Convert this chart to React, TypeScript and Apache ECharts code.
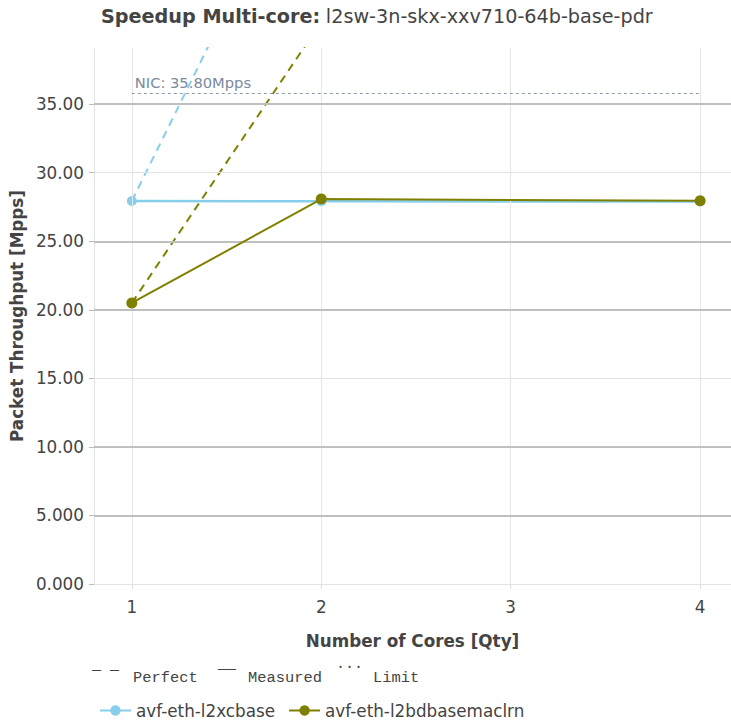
import React, { useEffect, useRef } from "react";
import * as echarts from "echarts";

const cores = [1, 2, 4];
const l2xcbaseMeasured = [27.94, 27.92, 27.9];
const l2bdMeasured = [20.5, 28.08, 27.96];
const l2xcbasePerfect = [27.94, 55.88, 111.76];
const l2bdPerfect = [20.5, 41.0, 82.0];
const nicLimit = 35.8;
const yTicks = [0, 5, 10, 15, 20, 25, 30, 35];
const yGridStrong = [5, 10, 20, 25, 35];
const yGridLight = [15, 30];
const xTicks = [1, 2, 3, 4];
const names = ["avf-eth-l2xcbase", "avf-eth-l2bdbasemaclrn"];
const colors = ["#87CEEB", "#808000"];

const FONT = "DejaVu Sans";
const MONO = "Liberation Mono";

export default function App() {
  const ref = useRef<HTMLDivElement>(null);
  useEffect(() => {
    if (!ref.current) return;
    const chart = echarts.init(ref.current, undefined, { renderer: "svg" });
    const pts = (ys: number[]) => cores.map((c, i) => [c, ys[i]]);
    const option: any = {
      animation: false,
      backgroundColor: "#fff",
      textStyle: { fontFamily: FONT },
      title: {
        left: 96,
        top: 2,
        text: "{b|Speedup Multi-core:} {n|l2sw-3n-skx-xxv710-64b-base-pdr}",
        textStyle: {
          fontWeight: "normal",
          rich: {
            b: { fontWeight: "bold", fontSize: 19.2, color: "#444", fontFamily: FONT },
            n: { fontWeight: "normal", fontSize: 19.2, color: "#444", fontFamily: FONT },
          },
        },
      },
      grid: { left: 92, top: 48, right: 0, height: 536 },
      xAxis: {
        type: "value",
        min: 0.8,
        max: 4.163,
        axisLine: { show: true, lineStyle: { color: "#e3e3e3", width: 1 } },
        axisTick: { show: true, customValues: xTicks, length: 5, lineStyle: { color: "#ddd" } },
        axisLabel: { customValues: xTicks, color: "#444", fontSize: 16.8, margin: 14, fontFamily: FONT, formatter: (v: number) => String(v) },
        splitLine: { show: false },
        name: "Number of Cores [Qty]",
        nameLocation: "middle",
        nameGap: 48,
        nameTextStyle: { fontWeight: "bold", fontSize: 16.8, color: "#444", fontFamily: FONT },
      },
      yAxis: {
        type: "value",
        min: 0,
        max: 39.1,
        axisLine: { show: true, lineStyle: { color: "#e3e3e3", width: 1 } },
        axisTick: { show: true, customValues: yTicks, length: 5, lineStyle: { color: "#bbb" } },
        axisLabel: { customValues: yTicks, color: "#444", fontSize: 16.8, margin: 10, fontFamily: FONT, formatter: (v: number) => v.toPrecision(4) },
        splitLine: { show: false },
        name: "Packet Throughput [Mpps]",
        nameLocation: "middle",
        nameRotate: 90,
        nameGap: 60,
        nameTextStyle: { fontWeight: "bold", fontSize: 16.8, color: "#444", fontFamily: FONT },
      },
      legend: {
        data: names,
        left: 94,
        top: 697,
        itemWidth: 31,
        itemHeight: 13,
        itemGap: 13,
        textStyle: { fontSize: 16.8, color: "#444", fontFamily: FONT },
      },
      graphic: [
        { type: "text", left: 92, top: 663, style: { text: "— —", font: `15px '${MONO}'`, fill: "#444" } },
        { type: "text", left: 133, top: 670, style: { text: "Perfect", font: `15.4px '${MONO}'`, fill: "#444" } },
        { type: "text", left: 218, top: 662, style: { text: "——", font: `15px '${MONO}'`, fill: "#444" } },
        { type: "text", left: 248, top: 670, style: { text: "Measured", font: `15.4px '${MONO}'`, fill: "#444" } },
        { type: "text", left: 336, top: 657, style: { text: "...", font: `15px '${MONO}'`, fill: "#444" } },
        { type: "text", left: 373, top: 670, style: { text: "Limit", font: `15.4px '${MONO}'`, fill: "#444" } },
      ],
      series: [
        {
          name: "grid",
          type: "line",
          data: [],
          z: 1,
          markLine: {
            silent: true,
            symbol: "none",
            label: { show: false },
            animation: false,
            data: [
              ...xTicks.map((v) => ({ xAxis: v, lineStyle: { color: "#e6e6e6", width: 1, type: "solid" } })),
              ...yGridLight.map((v) => ({ yAxis: v, lineStyle: { color: "#e2e2e2", width: 1, type: "solid" } })),
              ...yGridStrong.map((v) => ({ yAxis: v, lineStyle: { color: "#bfbfbf", width: 2, type: "solid" } })),
            ],
          },
        },
        {
          name: "Limit",
          type: "line",
          data: [],
          z: 2,
          markLine: {
            silent: true,
            symbol: "none",
            animation: false,
            lineStyle: { color: "#8e9cb0", width: 1, type: [3, 3] },
            label: {
              show: true,
              position: "insideStartTop",
              formatter: "NIC: 35.80Mpps",
              color: "#7a8aa0",
              fontSize: 14.7,
              fontFamily: FONT,
              distance: 3,
            },
            data: [[{ coord: [1, nicLimit] }, { coord: [4, nicLimit] }]],
          },
        },
        {
          name: names[0] + " perfect",
          type: "line",
          data: pts(l2xcbasePerfect),
          symbol: "none",
          z: 3,
          lineStyle: { color: colors[0], width: 2, type: [8, 6] },
          itemStyle: { color: colors[0] },
        },
        {
          name: names[1] + " perfect",
          type: "line",
          data: pts(l2bdPerfect),
          symbol: "none",
          z: 3,
          lineStyle: { color: colors[1], width: 2, type: [8, 6] },
          itemStyle: { color: colors[1] },
        },
        {
          name: names[0],
          type: "line",
          data: pts(l2xcbaseMeasured),
          symbol: "circle",
          symbolSize: 10,
          z: 4,
          lineStyle: { color: colors[0], width: 2.5 },
          itemStyle: { color: colors[0] },
        },
        {
          name: names[1],
          type: "line",
          data: pts(l2bdMeasured),
          symbol: "circle",
          symbolSize: 11,
          z: 5,
          lineStyle: { color: colors[1], width: 2 },
          itemStyle: { color: colors[1] },
        },
      ],
    };
    chart.setOption(option);
    return () => chart.dispose();
  }, []);
  return <div ref={ref} style={{ position: "absolute", left: 0, top: 0, width: 731, height: 726 }} />;
}
